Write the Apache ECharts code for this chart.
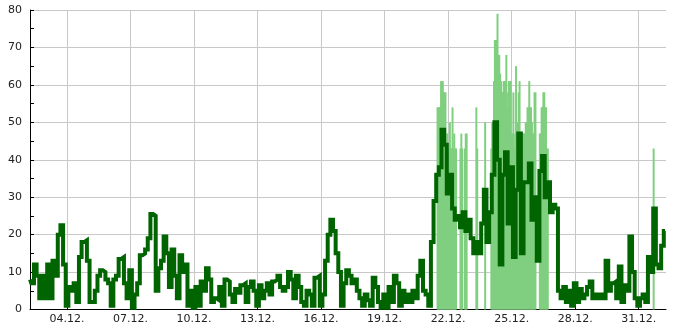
<!DOCTYPE html>
<html>
<head>
<meta charset="utf-8">
<script src="https://cdn.jsdelivr.net/npm/echarts@6/dist/echarts.min.js"></script>
<style>
html,body{margin:0;padding:0;background:#fff;}
#chart{width:685px;height:330px;}
</style>
</head>
<body>
<div id="chart"></div>
<script>
// ---- data ----
// mean wind, 3-hourly, starting 02.12. 06:00
const windStart = Date.UTC(2024, 11, 2, 6);
const windStepHours = 3;
const windSpeed = [
  8, 7, 12, 9, 3, 9,
  3, 12, 3, 13, 9, 20, 22.5, 12,
  1, 6, 5, 7, 2, 14, 18, 18.5,
  13, 2, 2, 5, 9, 10.5, 10, 8,
  7, 1, 8, 9, 13.5, 14, 7, 3,
  10.5, 0.5, 4, 7, 14.5, 15, 16, 19,
  25.5, 25, 5, 11, 13, 19.5, 15, 6,
  16, 9, 3, 14.5, 10, 12, 1, 5,
  0.5, 6, 1, 7.5, 5, 11, 8, 2,
  3, 2.5, 6, 1, 8, 7.5, 4, 2,
  5.5, 4.5, 6.5, 7, 2, 6, 7.5, 5,
  1, 6.5, 3, 5, 7, 4, 7.5, 8,
  9, 6, 5, 6, 10, 8, 3, 9,
  6, 2, 1, 5, 4, 1, 8.5, 9,
  1, 4, 13, 20, 24, 21, 15, 10,
  1, 7, 10.5, 9, 7, 8, 5, 3,
  1, 4, 2.5, 1, 8.5, 6, 2, 0.5,
  4, 0.5, 6, 2, 9, 7, 1, 5,
  2, 4, 2, 5, 3, 9, 13, 5,
  4, 1, 18, 29, 36, 38, 48, 44,
  31, 36, 27, 24, 25, 22, 26, 21,
  24, 19, 15, 18, 15, 23, 32, 18,
  26, 36, 50, 40, 12, 36, 42, 23,
  38, 14, 32, 47, 15, 34, 34, 39,
  24, 30, 13, 37, 41, 30, 34, 26,
  28, 27, 5, 3, 6, 2, 5, 1,
  7, 2, 5.5, 3, 4, 6, 7.5, 3,
  4, 3, 4, 3, 13, 5, 7, 7.5,
  3, 11.5, 2, 6.5, 5, 19.5, 10, 3,
  1, 3, 4, 2, 14, 10, 27, 12,
  11, 17, 21
];
// gusts, hourly, starting 21.12. 12:00
const gustStartA = Date.UTC(2024, 11, 21, 12);
const gustA = [
  54, 54, 54, 54, 61, 61, 61, 58, 58, 58, 47, 47,
  43, 43, 50, 43, 43, 54, 43, 47, 43, 43, null, null,
  null, null, 43, 47, 43, null, null, 43, 47, 47, null, null,
  null, null, null, null, null, null, null, null, 54, 43, null, null,
  null, null, null, null, null, null, 50, null, null, null, null, null,
  null, 43, 50, 43, 61, 72, 72, 72, 79, 68, 68, 63,
  61, 58, 58, 61, 61, 61, 68, 54, 58, 61, 61, 61,
  47, 47, 58, 43, 47, 65, 50, 50, 58, 61, 47, 47,
  47, 47, 47, 47, 50, 50, 54, 54, 61, 54, 54, 50,
  47, 47, 58, 58, null, null, null, null, 47, 47, 54, 54,
  58, 58, 54, 54, 43, 43
];
const gustStartB = Date.UTC(2024, 11, 31, 17);
const gustB = [43];
const gustStepHours = 1;

const xMinTime = Date.UTC(2024, 11, 2, 6);
const xMaxTime = Date.UTC(2025, 0, 1, 7);
const tickDates = [
  Date.UTC(2024, 11, 4), Date.UTC(2024, 11, 7), Date.UTC(2024, 11, 10),
  Date.UTC(2024, 11, 13), Date.UTC(2024, 11, 16), Date.UTC(2024, 11, 19),
  Date.UTC(2024, 11, 22), Date.UTC(2024, 11, 25), Date.UTC(2024, 11, 28),
  Date.UTC(2024, 11, 31)
];
const tickLabels = ['04.12.', '07.12.', '10.12.', '13.12.', '16.12.', '19.12.', '22.12.', '25.12.', '28.12.', '31.12.'];
const yTicks = [0, 10, 20, 30, 40, 50, 60, 70, 80];

// ---- build (x in hours since 01.12. 00:00) ----
const H = 3600 * 1000;
const origin = Date.UTC(2024, 11, 1);
const toH = t => (t - origin) / H;
const windData = windSpeed.map((v, i) => [toH(windStart) + i * windStepHours, v]);
const gustData = gustA.map((v, i) => [toH(gustStartA) + i * gustStepHours, v])
  .concat(gustB.map((v, i) => [toH(gustStartB) + i * gustStepHours, v]))
  .filter(d => d[1] !== null);
const tickHours = tickDates.map(toH);
const labelOf = {};
tickHours.forEach((h, i) => { labelOf[h] = tickLabels[i]; });

const chart = echarts.init(document.getElementById('chart'), null, { renderer: 'canvas' });
chart.setOption({
  animation: false,
  backgroundColor: '#ffffff',
  grid: { left: 30, right: 19, top: 10, bottom: 20.5, containLabel: false },
  xAxis: {
    type: 'value',
    min: toH(xMinTime),
    max: toH(xMaxTime),
    axisLine: { show: true, onZero: false, lineStyle: { color: '#000', width: 1 } },
    axisTick: { show: true, inside: true, length: 5, customValues: tickHours, lineStyle: { color: '#000' } },
    axisLabel: {
      customValues: tickHours,
      formatter: v => labelOf[v] || '',
      color: '#222',
      fontFamily: 'DejaVu Sans',
      fontSize: 11,
      margin: 4
    },
    splitLine: { show: true, lineStyle: { color: '#c8c8c8', width: 1 } }
  },
  yAxis: {
    type: 'value',
    min: yTicks[0],
    max: yTicks[yTicks.length - 1],
    interval: 10,
    axisLine: { show: true, lineStyle: { color: '#000', width: 1 } },
    axisTick: { show: true, inside: true, length: 4, lineStyle: { color: '#000' } },
    minorTick: { show: true, splitNumber: 2, length: 4, lineStyle: { color: '#000' } },
    axisLabel: { color: '#222', fontFamily: 'DejaVu Sans', fontSize: 11, margin: 8 },
    splitLine: { show: true, lineStyle: { color: '#c8c8c8', width: 1 } }
  },
  series: [
    {
      name: 'gust',
      type: 'bar',
      data: gustData,
      barWidth: 2,
      itemStyle: { color: '#80cf80' },
      silent: true
    },
    {
      name: 'wind',
      type: 'line',
      data: windData,
      step: 'middle',
      showSymbol: false,
      lineStyle: { color: '#006400', width: 4, join: 'miter' },
      silent: true
    }
  ]
});
</script>
</body>
</html>
